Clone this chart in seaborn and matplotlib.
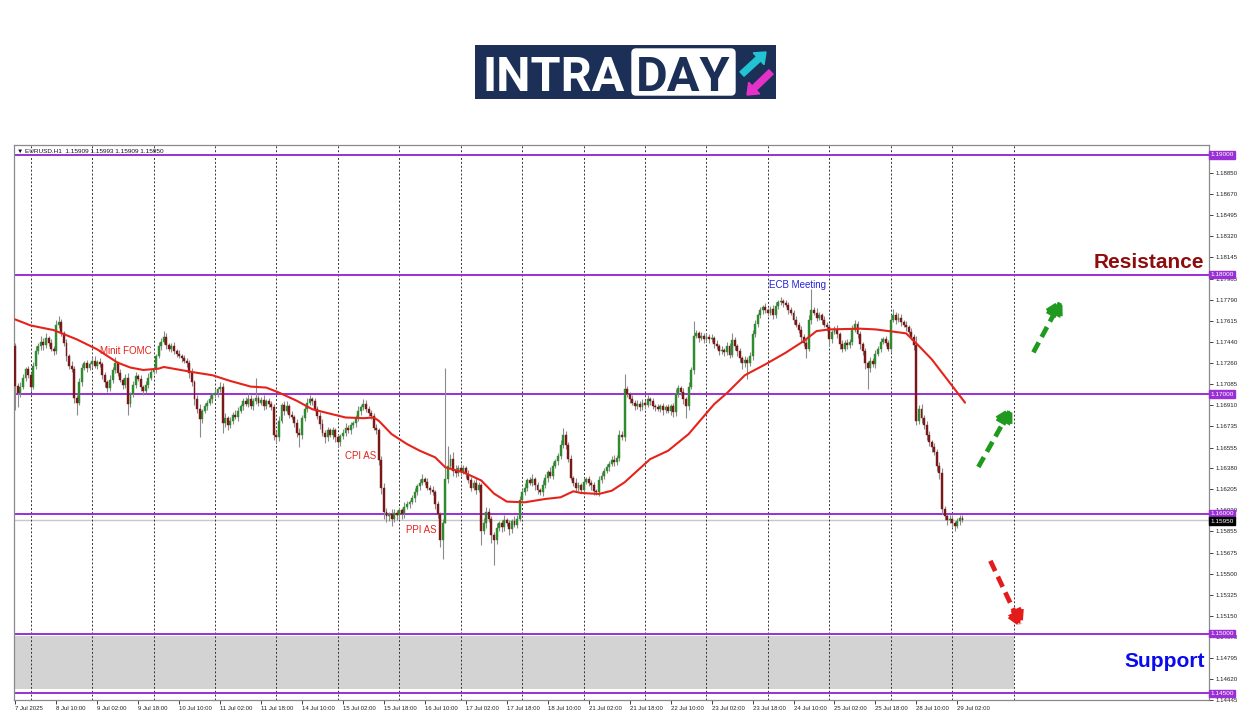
import numpy as np
import pandas as pd
import matplotlib
matplotlib.use("Agg")
import matplotlib.pyplot as plt
import seaborn as sns
from matplotlib.patches import Rectangle, FancyBboxPatch, FancyArrow

# EURUSD H1, closes in pips above 1.15000, one row per trading day
first_open = 240
close_pips = (
    [207, 201, 206, 214, 221, 216] +
    [206, 224, 236, 240, 244, 241, 247, 243, 238, 236, 258, 260, 251, 243, 232, 224, 221, 197, 193, 210, 222, 226, 222, 225] +
    [228, 224, 227, 225, 216, 210, 205, 212, 220, 226, 218, 212, 208, 214, 192, 200, 208, 215, 213, 206, 203, 208, 214, 219] +
    [221, 232, 240, 244, 248, 241, 238, 240, 236, 234, 232, 230, 228, 226, 218, 210, 196, 188, 179, 186, 190, 193, 196, 199] +
    [201, 204, 206, 176, 180, 174, 178, 183, 181, 186, 190, 194, 192, 196, 190, 194, 197, 193, 195, 190, 194, 192, 189, 166] +
    [164, 178, 191, 186, 190, 183, 181, 176, 168, 166, 180, 188, 193, 196, 194, 188, 182, 175, 168, 164, 170, 166, 170, 164] +
    [160, 165, 168, 172, 170, 174, 176, 180, 186, 189, 192, 188, 184, 182, 172, 170, 145, 122, 102, 98, 100, 96, 101, 99] +
    [103, 100, 106, 108, 110, 113, 118, 123, 126, 129, 127, 122, 120, 118, 108, 100, 78, 92, 129, 140, 146, 136, 134, 138] +
    [135, 138, 133, 128, 122, 126, 120, 124, 86, 92, 102, 96, 82, 78, 88, 92, 89, 95, 92, 87, 94, 91, 96, 112] +
    [118, 122, 128, 126, 129, 124, 120, 118, 124, 130, 135, 132, 140, 144, 148, 158, 166, 158, 146, 130, 126, 122, 124, 120] +
    [127, 129, 126, 124, 119, 118, 128, 132, 136, 139, 142, 145, 143, 147, 166, 164, 204, 200, 196, 193, 190, 192, 189, 193] +
    [191, 196, 194, 190, 189, 188, 190, 187, 189, 186, 190, 185, 200, 205, 202, 196, 190, 206, 220, 249, 251, 247, 249, 246] +
    [248, 246, 247, 242, 240, 236, 237, 235, 240, 233, 245, 240, 236, 230, 226, 229, 226, 232, 250, 259, 266, 270, 273, 270] +
    [268, 271, 266, 274, 277, 278, 276, 275, 270, 268, 262, 258, 254, 248, 243, 238, 262, 270, 268, 264, 266, 262, 258, 256] +
    [246, 252, 254, 250, 242, 238, 243, 241, 244, 254, 259, 250, 242, 236, 226, 222, 228, 225, 234, 238, 244, 246, 243, 238] +
    [262, 266, 262, 264, 260, 258, 256, 252, 248, 241, 178, 188, 180, 174, 166, 160, 156, 152, 140, 134, 104, 98, 95, 96] +
    [92, 90, 94, 97, 95]
)
# wick lengths in pips beyond the body
up_wick = (
    [3, 2, 4, 3, 2, 3] +
    [2, 3, 4, 3, 5, 3, 4, 2, 3, 2, 4, 5, 3, 2, 3, 2, 4, 3, 2, 4, 3, 2, 3, 2] +
    [3, 4, 2, 3, 2, 3, 2, 4, 3, 5, 2, 3, 2, 3, 4, 2, 3, 4, 2, 3, 2, 3, 4, 2] +
    [3, 2, 4, 3, 5, 3, 2, 3, 4, 2, 3, 2, 3, 2, 3, 4, 2, 3, 4, 2, 3, 2, 3, 2] +
    [3, 2, 4, 3, 4, 2, 3, 2, 4, 3, 2, 3, 4, 5, 3, 3, 17, 2, 3, 4, 2, 3, 2, 3] +
    [3, 4, 2, 3, 4, 2, 3, 2, 3, 4, 3, 2, 4, 3, 2, 3, 2, 3, 4, 2, 3, 2, 3, 2] +
    [3, 2, 3, 4, 2, 3, 2, 3, 4, 2, 4, 3, 2, 3, 2, 3, 2, 3, 4, 3, 2, 4, 3, 2] +
    [3, 2, 4, 3, 2, 3, 4, 2, 3, 4, 2, 3, 2, 3, 2, 3, 2, 4, 93, 17, 4, 6, 5, 3] +
    [4, 3, 2, 4, 3, 2, 4, 3, 2, 5, 4, 3, 2, 3, 4, 2, 3, 4, 2, 3, 2, 4, 3, 3] +
    [3, 4, 2, 3, 4, 2, 3, 2, 4, 3, 2, 4, 3, 2, 3, 4, 6, 3, 2, 3, 2, 4, 3, 2] +
    [3, 2, 3, 2, 3, 2, 4, 3, 2, 3, 2, 3, 4, 2, 4, 3, 13, 3, 2, 3, 2, 3, 2, 3] +
    [2, 3, 2, 3, 2, 3, 2, 3, 2, 3, 2, 3, 4, 3, 2, 3, 2, 4, 3, 12, 3, 2, 3, 2] +
    [3, 2, 3, 2, 3, 2, 3, 2, 4, 3, 6, 3, 2, 3, 2, 3, 2, 3, 4, 3, 2, 3, 2, 3] +
    [2, 3, 4, 3, 2, 3, 2, 3, 2, 3, 2, 3, 2, 3, 2, 3, 4, 18, 3, 4, 3, 2, 3, 2] +
    [3, 2, 3, 4, 2, 3, 2, 3, 2, 4, 3, 2, 3, 2, 3, 2, 3, 2, 3, 2, 3, 2, 3, 2] +
    [4, 5, 3, 4, 3, 2, 3, 2, 3, 2, 8, 3, 4, 3, 4, 3, 2, 3, 2, 3, 4, 3, 2, 3] +
    [3, 2, 3, 2, 2]
)
down_wick = (
    [20, 12, 3, 2, 3, 2] +
    [3, 2, 3, 2, 3, 4, 2, 3, 2, 3, 2, 3, 2, 3, 4, 3, 2, 4, 10, 2, 3, 2, 3, 2] +
    [3, 2, 3, 2, 3, 4, 3, 2, 3, 2, 3, 2, 4, 3, 9, 3, 2, 3, 2, 3, 4, 2, 3, 2] +
    [2, 3, 2, 3, 2, 3, 2, 3, 2, 3, 2, 3, 2, 3, 4, 3, 5, 4, 15, 3, 2, 3, 2, 3] +
    [2, 3, 2, 8, 3, 4, 2, 3, 2, 3, 2, 3, 2, 3, 2, 3, 2, 3, 2, 3, 2, 3, 2, 4] +
    [5, 3, 2, 3, 2, 3, 2, 3, 4, 10, 3, 2, 3, 2, 3, 2, 3, 4, 3, 5, 3, 2, 3, 4] +
    [4, 3, 2, 3, 2, 3, 2, 3, 2, 3, 2, 3, 2, 3, 2, 3, 4, 5, 6, 5, 4, 6, 3, 4] +
    [3, 4, 3, 2, 3, 2, 3, 2, 3, 2, 3, 2, 3, 2, 4, 3, 6, 16, 0, 3, 2, 4, 3, 2] +
    [3, 2, 3, 2, 3, 2, 3, 2, 12, 3, 4, 3, 6, 21, 3, 2, 4, 3, 2, 5, 3, 2, 3, 2] +
    [3, 2, 3, 2, 3, 4, 3, 2, 3, 2, 3, 2, 3, 2, 3, 2, 3, 4, 3, 2, 3, 4, 3, 2] +
    [3, 2, 3, 4, 3, 2, 3, 2, 3, 2, 3, 2, 3, 2, 3, 2, 3, 2, 3, 2, 3, 2, 3, 2] +
    [3, 2, 3, 2, 3, 2, 3, 4, 3, 2, 3, 4, 3, 2, 3, 4, 10, 3, 2, 3, 2, 3, 2, 3] +
    [2, 3, 2, 3, 2, 3, 2, 3, 2, 3, 2, 3, 4, 3, 5, 3, 13, 2, 3, 2, 3, 2, 3, 2] +
    [3, 2, 3, 2, 3, 2, 3, 2, 3, 2, 3, 2, 3, 4, 3, 8, 2, 3, 2, 3, 2, 3, 2, 3] +
    [6, 3, 2, 3, 4, 3, 2, 3, 2, 3, 2, 3, 4, 3, 5, 18, 3, 2, 3, 2, 3, 2, 3, 2] +
    [3, 2, 3, 2, 3, 2, 3, 2, 3, 4, 4, 3, 4, 3, 4, 3, 4, 3, 4, 5, 4, 3, 4, 3] +
    [3, 4, 2, 3, 2]
)

# moving average (bar index, pips)
ma_bar = [0, 6, 15, 24, 32, 40, 45, 50, 56, 58, 63, 69, 77, 84, 92, 98, 103, 110, 116, 121,
          129, 136, 140, 142, 147, 153, 158, 164, 168, 175, 182, 187, 192, 199, 207, 213, 218,
          221, 228, 233, 238, 243, 248, 255, 263, 268, 273, 278, 285, 293, 301, 308, 313, 318,
          330, 336, 343, 348, 353, 358, 364, 369, 371]
ma_pips = [262.5, 257.5, 253.6, 245.9, 237.5, 226.4, 222.3, 220.3, 221.4, 222.8, 220.9, 218.6,
           215.9, 211.1, 206.4, 205.6, 201.4, 194.5, 187.5, 184.8, 180.6, 180.0, 180.6, 177.8,
           166.7, 158.4, 152.8, 147.3, 138.9, 134.8, 128.0, 117.0, 110.3, 109.7, 112.5, 113.9,
           118.9, 117.5, 116.7, 119.4, 126.4, 136.1, 145.8, 152.8, 166.7, 179.2, 191.7, 201.0,
           215.9, 225.0, 234.8, 244.5, 252.8, 254.2, 254.8, 254.2, 252.3, 250.9, 240.3, 229.2,
           212.5, 198.6, 193.0]

levels = [1.19, 1.18, 1.17, 1.16, 1.15, 1.145]
last_price = 1.1595
price_ticks = [1.1885, 1.1867, 1.18495, 1.1832, 1.18145, 1.17965, 1.1779, 1.17615, 1.1744,
               1.1726, 1.17085, 1.1691, 1.16735, 1.16555, 1.1638, 1.16205, 1.1603, 1.15855,
               1.15675, 1.155, 1.15325, 1.1515, 1.1497, 1.14795, 1.1462, 1.14445]
time_labels = ['7 Jul 2025', '8 Jul 10:00', '9 Jul 02:00', '9 Jul 18:00', '10 Jul 10:00',
               '11 Jul 02:00', '11 Jul 18:00', '14 Jul 10:00', '15 Jul 02:00', '15 Jul 18:00',
               '16 Jul 10:00', '17 Jul 02:00', '17 Jul 18:00', '18 Jul 10:00', '21 Jul 02:00',
               '21 Jul 18:00', '22 Jul 10:00', '23 Jul 02:00', '23 Jul 18:00', '24 Jul 10:00',
               '25 Jul 02:00', '25 Jul 18:00', '28 Jul 10:00', '29 Jul 02:00']
header = "\u25bc EURUSD.H1  1.15909 1.15993 1.15909 1.15950"

sns.set_theme(style="white")
plt.rcParams['font.family'] = ['Liberation Sans', 'DejaVu Sans']

c = 1.15 + np.array(close_pips) / 10000
o = np.r_[1.15 + first_open / 10000, c[:-1]]
hi = np.maximum(o, c) + np.array(up_wick) / 10000
lo = np.minimum(o, c) - np.array(down_wick) / 10000
x = np.arange(len(c))
ma = pd.DataFrame({'bar': ma_bar, 'price': 1.15 + np.array(ma_pips) / 10000})

fig = plt.figure(figsize=(12.5, 7.16), dpi=100)
ax = fig.add_axes([14 / 1250, 16 / 716, 1195 / 1250, 555 / 716])
ax.set_xlim(-0.5, 466.3)
ax.set_ylim(1.14445, 1.19083)

# support zone and levels
ax.fill_between([-0.5, 390], 1.14535, 1.14978, color='#d3d3d3', lw=0, zorder=0)
for lv in levels:
    ax.axhline(lv, color='#9a2fd6', lw=1.4, zorder=2)
ax.axhline(last_price, color='#c8c8c8', lw=1.0, zorder=1)

# day separators
for d in range(6, 391, 24):
    ax.axvline(d, color='#333333', lw=0.7, ls=(0, (2, 2)), zorder=1)

# candles
up = c >= o
ax.vlines(x, lo, hi, color='#8a8a8a', lw=0.8, zorder=3)
bot = np.minimum(o, c)
h = np.maximum(np.abs(c - o), 0.00004)
ax.bar(x[up], h[up], bottom=bot[up], width=0.75, color='#2e8b2e', edgecolor='#2e8b2e', lw=0.3, zorder=4)
ax.bar(x[~up], h[~up], bottom=bot[~up], width=0.75, color='#7a1717', edgecolor='#7a1717', lw=0.3, zorder=4)

sns.lineplot(data=ma, x='bar', y='price', color='#e5231b', lw=1.5, ax=ax, zorder=5)

# axes styling
ax.yaxis.tick_right()
ax.set_yticks(price_ticks)
ax.set_yticklabels([f'{t:.5f}' for t in price_ticks])
ax.set_xticks(np.arange(len(time_labels)) * 16)
ax.set_xticklabels(time_labels)
for lbl in ax.get_xticklabels():
    lbl.set_ha('left')
ax.tick_params(axis='y', length=3, width=0.6, labelsize=4.4, pad=2, colors='#222222', right=True, left=False)
ax.tick_params(axis='x', length=3, width=0.6, labelsize=4.3, pad=1.5, colors='#222222', bottom=True)
ax.set_xlabel('')
ax.set_ylabel('')
for sp in ax.spines.values():
    sp.set_color('#8a8a8a')
    sp.set_linewidth(0.9)

for lv in levels:
    ax.text(1.001, lv, f'{lv:.5f}', transform=ax.get_yaxis_transform(), fontsize=4.6, color='white',
            va='center', ha='left', clip_on=False, zorder=10,
            bbox=dict(boxstyle='square,pad=0.2', fc='#9a2fd6', ec='#9a2fd6'))
ax.text(1.001, last_price - 0.0001, f'{last_price:.5f}', transform=ax.get_yaxis_transform(), fontsize=4.6,
        color='white', va='center', ha='left', clip_on=False, zorder=10,
        bbox=dict(boxstyle='square,pad=0.2', fc='black', ec='black'))

ax.text(0.0025, 0.989, header, transform=ax.transAxes, fontsize=4.6, color='#111111', va='center', ha='left')

# annotations
ax.text(43, 1.1736, 'Minit FOMC', color='#e5231b', fontsize=7, ha='center', va='center')
ax.text(135, 1.16483, 'CPI AS', color='#e5231b', fontsize=7, ha='center', va='center')
ax.text(158.6, 1.15867, 'PPI AS', color='#e5231b', fontsize=7, ha='center', va='center')
ax.text(305.5, 1.17917, 'ECB Meeting', color='#2323d8', fontsize=7, ha='center', va='center')
ax.text(443, 1.1810, 'Resistance', color='#8e0c0c', fontsize=15, fontweight='bold',
        ha='center', va='center')
ax.text(448.8, 1.1477, 'Support', color='#0a0af0', fontsize=15, fontweight='bold',
        ha='center', va='center')

arrows = [((376.2, 1.16392), (389.5, 1.1690), '#1f9a1f'),
          ((397.7, 1.1735), (409.0, 1.1780), '#1f9a1f'),
          ((380.9, 1.15608), (393.4, 1.15042), '#e41b1b')]
for start, end, col in arrows:
    ax.annotate('', xy=end, xytext=start,
                arrowprops=dict(arrowstyle='-|>,head_length=0.8,head_width=0.45', color=col, lw=3.4,
                                ls=(0, (2.4, 1.3)), capstyle='butt', shrinkA=0, shrinkB=0))

# logo
lax = fig.add_axes([475 / 1250, 1 - 99 / 716, 301 / 1250, 54 / 716])
lax.set_xlim(0, 301)
lax.set_ylim(54, 0)
lax.axis('off')
lax.add_patch(Rectangle((0, 0), 301, 54, color='#1b2f57', zorder=0))
lax.add_patch(FancyBboxPatch((157, 4), 103, 46, boxstyle='round,pad=0,rounding_size=4',
                             fc='white', ec='white', zorder=1))
lax.text(7, 46, 'INTRA', color='white', fontsize=35, fontweight='bold', family=['Roboto', 'DejaVu Sans'],
         ha='left', va='baseline', zorder=2)
lax.text(208, 46, 'DAY', color='#1b2f57', fontsize=35, fontweight='bold', family=['Roboto', 'DejaVu Sans'],
         ha='center', va='baseline', zorder=2)
lax.add_patch(FancyArrow(267, 29, 24, -22, width=6, head_width=16, head_length=10,
                         length_includes_head=True, color='#22c3d3', zorder=3))
lax.add_patch(FancyArrow(296, 27, -24, 23, width=6, head_width=16, head_length=10,
                         length_includes_head=True, color='#e432c8', zorder=3))

fig.savefig('out.png', dpi=100, facecolor='white')
